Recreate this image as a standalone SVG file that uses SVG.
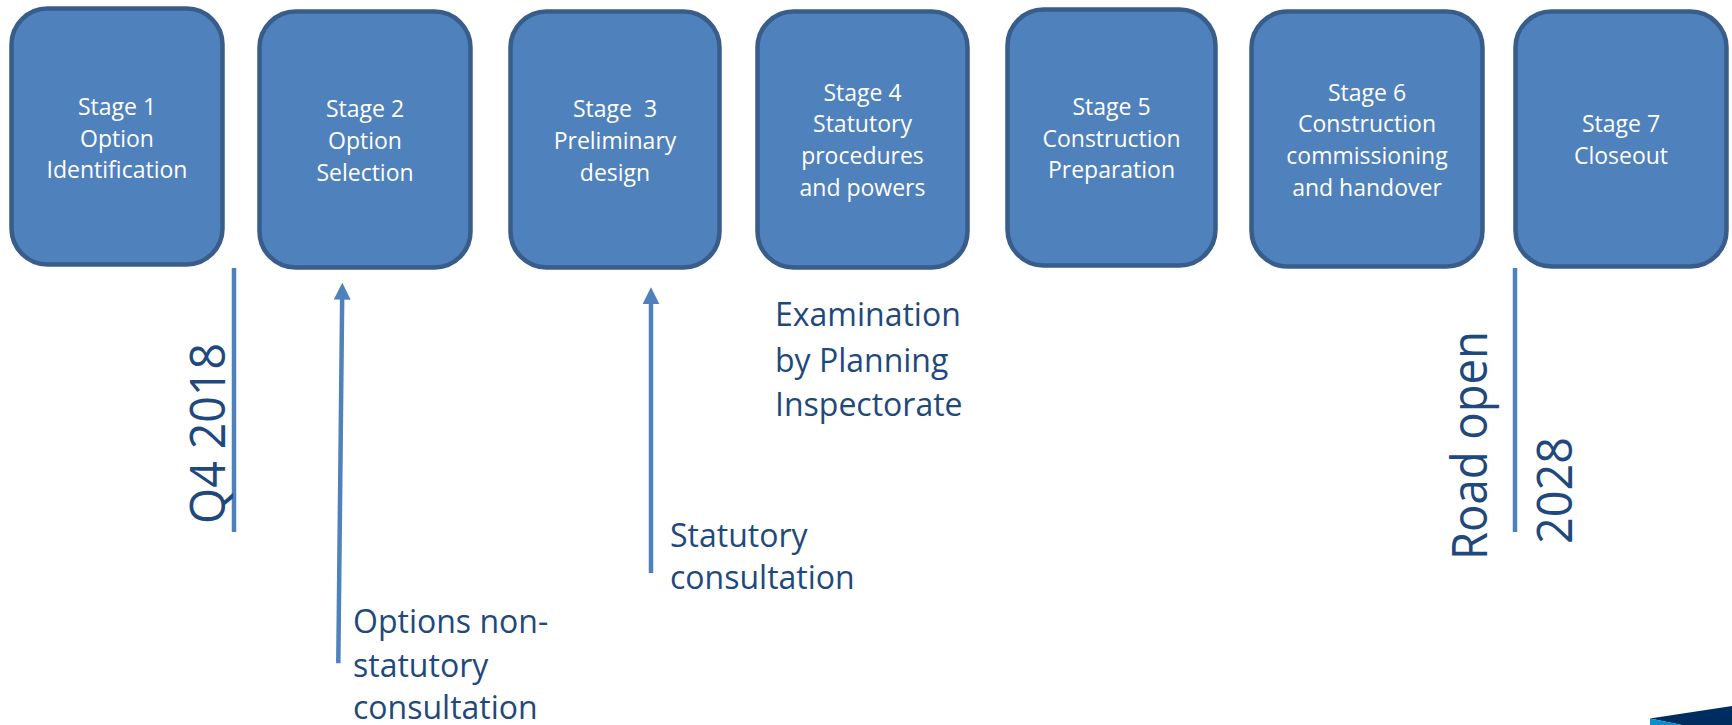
<svg xmlns="http://www.w3.org/2000/svg" width="1732" height="725" viewBox="0 0 1732 725">
  <style>
    .box { fill: #4F81BD; stroke: #385D8A; stroke-width: 4.5; }
    .bt { font-family: "Open Sans", "Liberation Sans", sans-serif; font-size: 23px; fill: #FFFFFF; text-anchor: middle; white-space: pre; }
    .lbl { font-family: "Open Sans", "Liberation Sans", sans-serif; font-size: 32px; fill: #1F497D; }
    .rot { font-family: "Open Sans", "Liberation Sans", sans-serif; font-size: 49px; fill: #1F497D; }
    .ln { stroke: #4F81BD; stroke-width: 4.5; fill: none; }
  </style>
  <defs>
    <marker id="ah" viewBox="0 0 10 10" refX="3" refY="5" markerWidth="17" markerHeight="17" markerUnits="userSpaceOnUse" orient="auto">
      <path d="M0,0 L10,5 L0,10 z" fill="#4F81BD"/>
    </marker>
  </defs>

  <g id="stage1">
    <rect class="box" x="11.5" y="8.5" width="211" height="256" rx="36" ry="36"/>
    <text class="bt"><tspan x="117" y="115">Stage 1</tspan><tspan x="117" y="146.7">Option</tspan><tspan x="117" y="178.4">Identification</tspan></text>
  </g>
  <g id="stage2">
    <rect class="box" x="259.5" y="11.5" width="211" height="256" rx="36" ry="36"/>
    <text class="bt"><tspan x="365" y="117.3">Stage 2</tspan><tspan x="365" y="149">Option</tspan><tspan x="365" y="180.7">Selection</tspan></text>
  </g>
  <g id="stage3">
    <rect class="box" x="510.5" y="11.5" width="209" height="256" rx="36" ry="36"/>
    <text class="bt"><tspan x="615" y="117.3">Stage  3</tspan><tspan x="615" y="149">Preliminary</tspan><tspan x="615" y="180.7">design</tspan></text>
  </g>
  <g id="stage4">
    <rect class="box" x="757.5" y="11.5" width="210" height="256" rx="36" ry="36"/>
    <text class="bt"><tspan x="862.5" y="100.7">Stage 4</tspan><tspan x="862.5" y="132.4">Statutory</tspan><tspan x="862.5" y="164">procedures</tspan><tspan x="862.5" y="195.8">and powers</tspan></text>
  </g>
  <g id="stage5">
    <rect class="box" x="1007.5" y="9.5" width="208" height="256" rx="36" ry="36"/>
    <text class="bt"><tspan x="1111.5" y="115">Stage 5</tspan><tspan x="1111.5" y="146.7">Construction</tspan><tspan x="1111.5" y="178.4">Preparation</tspan></text>
  </g>
  <g id="stage6">
    <rect class="box" x="1251.5" y="11.5" width="231" height="255" rx="36" ry="36"/>
    <text class="bt"><tspan x="1367" y="100.7">Stage 6</tspan><tspan x="1367" y="132.4">Construction</tspan><tspan x="1367" y="164">commissioning</tspan><tspan x="1367" y="195.8">and handover</tspan></text>
  </g>
  <g id="stage7">
    <rect class="box" x="1515.5" y="11.5" width="211" height="255" rx="36" ry="36"/>
    <text class="bt"><tspan x="1621" y="132.4">Stage 7</tspan><tspan x="1621" y="164">Closeout</tspan></text>
  </g>

  <g id="connectors">
    <line class="ln" x1="234" y1="268" x2="234" y2="532"/>
    <line class="ln" x1="1515" y1="268" x2="1515" y2="532"/>
    <line class="ln" x1="338.3" y1="663.3" x2="342.2" y2="294.6" marker-end="url(#ah)"/>
    <line class="ln" x1="651" y1="573" x2="651" y2="299.2" marker-end="url(#ah)"/>
  </g>

  <g id="milestone-q4-2018">
    <text class="rot" transform="translate(225,524) rotate(-90)" textLength="181" lengthAdjust="spacingAndGlyphs">Q4 2018</text>
  </g>
  <g id="milestone-road-open">
    <text class="rot" transform="translate(1487,560) rotate(-90)" textLength="229" lengthAdjust="spacingAndGlyphs">Road open</text>
    <text class="rot" transform="translate(1571.5,544) rotate(-90)" textLength="107" lengthAdjust="spacingAndGlyphs">2028</text>
  </g>

  <g id="label-options">
    <text class="lbl"><tspan x="353" y="633">Options non-</tspan><tspan x="353" y="677">statutory</tspan><tspan x="353" y="719">consultation</tspan></text>
  </g>
  <g id="label-statutory">
    <text class="lbl"><tspan x="670" y="546.7">Statutory</tspan><tspan x="670" y="589.3">consultation</tspan></text>
  </g>
  <g id="label-examination">
    <text class="lbl"><tspan x="775" y="326">Examination</tspan><tspan x="775" y="371.7">by Planning</tspan><tspan x="775" y="416">Inspectorate</tspan></text>
  </g>

  <g id="logo-fragment">
    <polygon points="1650,718.5 1732,706 1732,725 1682,725" fill="#002D5F"/>
    <polygon points="1650,718.5 1682,725 1650,725" fill="#0A8FD1"/>
  </g>
</svg>
